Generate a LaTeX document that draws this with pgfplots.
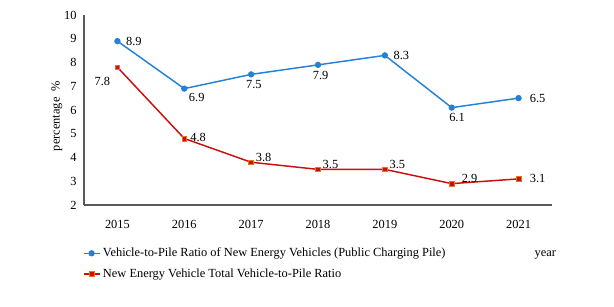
\documentclass[border=0pt]{standalone}
\usepackage{pgfplots}
\pgfplotsset{compat=1.18}
\usepackage{fontspec}
\setmainfont{Liberation Serif}
\definecolor{cblue}{RGB}{35,130,215}
\definecolor{cred}{RGB}{200,16,16}
\definecolor{corange}{RGB}{240,110,30}
\newcommand{\fs}{\fontsize{9.3}{10.5}\selectfont}
\begin{document}
\begin{tikzpicture}
\path[use as bounding box] (-63pt,-76.5pt) rectangle (397.5pt,153.75pt);
\begin{axis}[
  at={(0,0)}, anchor=south west,
  scale only axis, width=351pt, height=142.5pt,
  xmin=-0.5, xmax=6.5, ymin=2, ymax=10,
  xtick={0,...,6}, xticklabels={2015,2016,2017,2018,2019,2020,2021},
  ytick={2,...,10},
  major tick length=0pt,
  axis x line*=bottom, axis y line*=left,
  axis line style={draw=black!65, line width=0.8pt, -},
  every axis x line/.append style={-},
  every axis y line/.append style={-},
  tick label style={font=\fs},
  /pgf/number format/assume math mode=true,
  xticklabel style={yshift=-8pt},
  yticklabel style={xshift=-2pt},
  ylabel={percentage\ \ \%}, ylabel style={font=\fs, at={(axis description cs:-0.058,0.468)}, anchor=center, rotate=0},
  xlabel={year}, xlabel style={font=\fs, at={(rel axis cs:1,0)}, anchor=center, xshift=-5pt, yshift=-37.5pt},
  legend style={at={(rel axis cs:0,0)}, anchor=north west, xshift=-4pt, yshift=-28pt, draw=none, fill=none,
    font=\fs, row sep=3.5pt, cells={anchor=west}},
  legend cell align=left,
  legend image code/.code={\draw[#1] (0cm,0cm) -- (0.42cm,0cm); \draw[#1, only marks] plot coordinates {(0.21cm,0cm)};},
]
\addplot[cblue, line width=1.1pt, mark=*, mark size=1.8pt, mark options={fill=cblue, draw=cblue}]
  coordinates {(0,8.9) (1,6.9) (2,7.5) (3,7.9) (4,8.3) (5,6.1) (6,6.5)};
\addlegendentry{Vehicle-to-Pile Ratio of New Energy Vehicles (Public Charging Pile)}
\addplot[cred, line width=1.1pt, mark=square*, mark size=1.8pt, mark options={fill=cred, draw=corange, line width=0.5pt}]
  coordinates {(0,7.8) (1,4.8) (2,3.8) (3,3.5) (4,3.5) (5,2.9) (6,3.1)};
\addlegendentry{New Energy Vehicle Total Vehicle-to-Pile Ratio}
\begin{scope}[font=\fs]
\node[anchor=west, xshift=3pt] at (axis cs:0,8.9) {8.9};
\node[anchor=north west, xshift=0pt, yshift=0pt] at (axis cs:1,6.9) {6.9};
\node[anchor=north, xshift=2pt, yshift=-1pt] at (axis cs:2,7.5) {7.5};
\node[anchor=north, xshift=2pt, yshift=-1pt] at (axis cs:3,7.9) {7.9};
\node[anchor=west, xshift=3pt] at (axis cs:4,8.3) {8.3};
\node[anchor=north, xshift=4pt, yshift=-1pt] at (axis cs:5,6.1) {6.1};
\node[anchor=west, xshift=5pt] at (axis cs:6,6.5) {6.5};
\node[anchor=north east, xshift=-2pt, yshift=-4pt] at (axis cs:0,7.8) {7.8};
\node[anchor=west, xshift=1pt, yshift=1pt] at (axis cs:1,4.8) {4.8};
\node[anchor=south west, xshift=0pt, yshift=-3pt] at (axis cs:2,3.8) {3.8};
\node[anchor=south west, xshift=0pt, yshift=-3pt] at (axis cs:3,3.5) {3.5};
\node[anchor=south west, xshift=0pt, yshift=-3pt] at (axis cs:4,3.5) {3.5};
\node[anchor=south west, xshift=4pt, yshift=-3pt] at (axis cs:5,2.9) {2.9};
\node[anchor=west, xshift=5pt] at (axis cs:6,3.1) {3.1};
\end{scope}
\end{axis}
\end{tikzpicture}
\end{document}
